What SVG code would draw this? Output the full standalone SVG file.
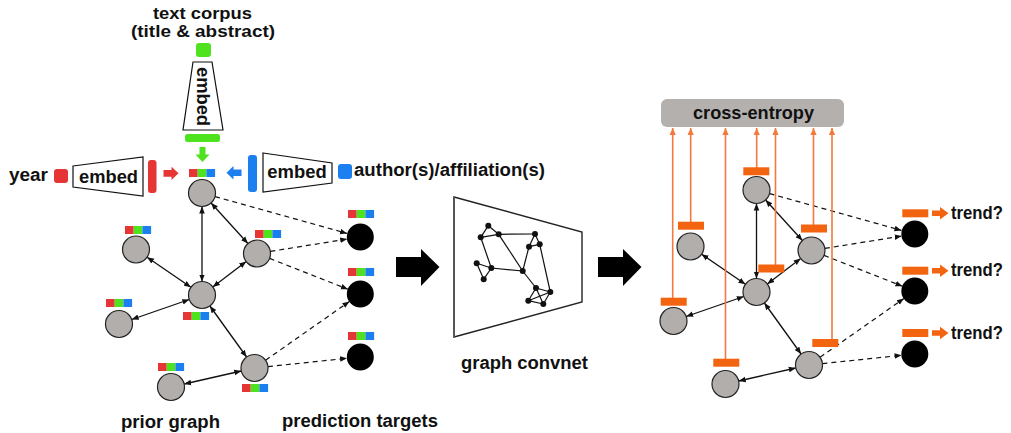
<svg xmlns="http://www.w3.org/2000/svg" width="1011" height="433" viewBox="0 0 1011 433">
<style>
.t{font-family:"Liberation Sans",Arial,sans-serif;font-weight:bold;font-size:18px;fill:#111}
.s{font-size:16px}
.nd{fill:#b2aeac;stroke:#222;stroke-width:1.2}
.tg{fill:#000}
.e{stroke:#111;stroke-width:1.3;fill:none;marker-start:url(#ah);marker-end:url(#ah)}
.d{stroke:#111;stroke-width:1.2;fill:none;stroke-dasharray:5 4;marker-end:url(#ah)}
.tr{fill:#fff;stroke:#111;stroke-width:1.2}
.r{fill:#e63535}.g{fill:#4fe21f}.b{fill:#1c7ff0}
.ob{fill:#f2640f}
.ol{stroke:#f37a3c;stroke-width:1.6;fill:none;marker-end:url(#oh)}
.cn line{stroke:#111;stroke-width:1.2}
.cn circle{fill:#111}
</style>
<defs>
<marker id="ah" viewBox="0 0 10 10" refX="10" refY="5" markerWidth="7" markerHeight="7" markerUnits="userSpaceOnUse" orient="auto-start-reverse"><path d="M0,1 L10,5 L0,9 z" fill="#111"/></marker>
<marker id="oh" viewBox="0 0 10 10" refX="10" refY="5" markerWidth="7" markerHeight="8" markerUnits="userSpaceOnUse" orient="auto"><path d="M0,0.5 L10,5 L0,9.5 z" fill="#f37a3c"/></marker>
<g id="bar3"><rect x="0" y="0" width="8.7" height="8" class="r"/><rect x="8.7" y="0" width="8.7" height="8" class="g"/><rect x="17.4" y="0" width="8.7" height="8" class="b"/></g>
</defs>

<!-- input features -->
<g id="text-corpus">
<text class="t s" x="153" y="18.5" textLength="99" lengthAdjust="spacingAndGlyphs">text corpus</text>
<text class="t s" x="131" y="36.5" textLength="144" lengthAdjust="spacingAndGlyphs">(title &amp; abstract)</text>
<rect x="196" y="43" width="15" height="14" rx="3" class="g"/>
<path d="M193,62 L212,62 L223,130 L183,130 Z" class="tr"/>
<text class="t" transform="translate(203,96.5) rotate(90)" x="-29.5" y="6" textLength="59" lengthAdjust="spacingAndGlyphs">embed</text>
<rect x="185" y="134" width="35" height="8" rx="2.5" class="g"/>
<path d="M199.5,147 L205.5,147 L205.5,154.5 L209.5,154.5 L202.5,162 L195.5,154.5 L199.5,154.5 Z" class="g"/>
</g>
<g id="year">
<text class="t" x="9" y="181" textLength="39" lengthAdjust="spacingAndGlyphs">year</text>
<rect x="54" y="169" width="14" height="14" rx="3" class="r"/>
<path d="M73,166 L143,157 L143,196 L73,187 Z" class="tr"/>
<text class="t" x="79" y="182.5" textLength="59" lengthAdjust="spacingAndGlyphs">embed</text>
<rect x="148" y="160" width="8.5" height="33" rx="3" class="r"/>
<path d="M163.5,170 L171.5,170 L171.5,166.7 L178.5,173.3 L171.5,180 L171.5,176.7 L163.5,176.7 Z" class="r"/>
</g>
<g id="authors">
<text class="t" x="354" y="176" textLength="191" lengthAdjust="spacingAndGlyphs">author(s)/affiliation(s)</text>
<rect x="338" y="164" width="14" height="15" rx="3" class="b"/>
<path d="M263,153 L332,163 L332,183 L263,192 Z" class="tr"/>
<text class="t" x="267.3" y="177.5" textLength="59.4" lengthAdjust="spacingAndGlyphs">embed</text>
<rect x="248" y="155" width="9" height="37" rx="3" class="b"/>
<path d="M241.5,169.5 L233.5,169.5 L233.5,166 L226.5,172.7 L233.5,179.4 L233.5,176 L241.5,176 Z" class="b"/>
</g>

<!-- left connectors -->
<g id="connectors-left">
<line class="e" x1="202" y1="206.5" x2="202" y2="281.5"/>
<line class="e" x1="211.1" y1="203" x2="247.9" y2="243.5"/>
<line class="e" x1="147.1" y1="257.2" x2="190.9" y2="287.3"/>
<line class="e" x1="246.2" y1="261.6" x2="212.8" y2="286.9"/>
<line class="e" x1="131.7" y1="319.5" x2="189.3" y2="299.5"/>
<line class="e" x1="209.9" y1="306" x2="246.6" y2="357"/>
<line class="e" x1="184.2" y1="384" x2="241.3" y2="371"/>
<line class="d" x1="215" y1="196.6" x2="347" y2="233.4"/>
<line class="d" x1="270.3" y1="251.4" x2="347.2" y2="239.1"/>
<line class="d" x1="269.6" y1="258.4" x2="347.9" y2="289.2"/>
<line class="d" x1="265.6" y1="360.2" x2="349.4" y2="301.5"/>
<line class="d" x1="267.9" y1="366.6" x2="347.1" y2="358.3"/>
</g>

<!-- left nodes -->
<g id="node-a"><circle class="nd" cx="202" cy="193" r="13.5"/><use href="#bar3" x="189" y="169"/></g>
<g id="node-b"><circle class="nd" cx="136" cy="249.5" r="13.5"/><use href="#bar3" x="125" y="226"/></g>
<g id="node-c"><circle class="nd" cx="257" cy="253.5" r="13.5"/><use href="#bar3" x="255" y="230"/></g>
<g id="node-d"><circle class="nd" cx="202" cy="295" r="13.5"/><use href="#bar3" x="183" y="312"/></g>
<g id="node-e"><circle class="nd" cx="119" cy="324" r="13.5"/><use href="#bar3" x="106" y="299"/></g>
<g id="node-f"><circle class="nd" cx="254.5" cy="368" r="13.5"/><use href="#bar3" x="242" y="384"/></g>
<g id="node-g"><circle class="nd" cx="171" cy="387" r="13.5"/><use href="#bar3" x="158" y="363"/></g>
<g id="target-1"><circle class="tg" cx="360.3" cy="237" r="13.5"/><use href="#bar3" x="348" y="210"/></g>
<g id="target-2"><circle class="tg" cx="360.3" cy="294" r="13.5"/><use href="#bar3" x="348" y="268"/></g>
<g id="target-3"><circle class="tg" cx="360.3" cy="357" r="13.5"/><use href="#bar3" x="348" y="332"/></g>

<g id="label-prior"><text class="t" x="121" y="427.5" textLength="99" lengthAdjust="spacingAndGlyphs">prior graph</text></g>
<g id="label-targets"><text class="t" x="282" y="427" textLength="156" lengthAdjust="spacingAndGlyphs">prediction targets</text></g>

<!-- big arrows -->
<g id="arrow-1"><path d="M396,257 L421,257 L421,249 L439.5,267 L421,286 L421,277 L396,277 Z" fill="#000"/></g>
<g id="arrow-2"><path d="M598,257 L623,257 L623,249 L641.5,267 L623,286 L623,277 L598,277 Z" fill="#000"/></g>

<!-- graph convnet -->
<g id="graph-convnet">
<path d="M454,197 L582,232 L582,302 L454,337 Z" fill="#fff" stroke="#222" stroke-width="1.4"/>
<line x1="454" y1="197" x2="454" y2="337" stroke="#555" stroke-width="2"/>
<g class="cn">
<line x1="488.3" y1="225.7" x2="480.7" y2="237.3"/>
<line x1="488.3" y1="225.7" x2="498.7" y2="234.3"/>
<line x1="480.7" y1="237.3" x2="498.7" y2="234.3"/>
<line x1="498.7" y1="234.3" x2="535" y2="234"/>
<line x1="480.7" y1="237.3" x2="491.3" y2="268"/>
<line x1="498.7" y1="234.3" x2="522.7" y2="271"/>
<line x1="535" y1="234" x2="529" y2="246.7"/>
<line x1="535" y1="234" x2="539.7" y2="244.3"/>
<line x1="529" y1="246.7" x2="539.7" y2="244.3"/>
<line x1="529" y1="246.7" x2="522.7" y2="271"/>
<line x1="539.7" y1="244.3" x2="550.3" y2="292"/>
<line x1="476.7" y1="263.3" x2="491.3" y2="268"/>
<line x1="476.7" y1="263.3" x2="483.7" y2="279.3"/>
<line x1="491.3" y1="268" x2="483.7" y2="279.3"/>
<line x1="491.3" y1="268" x2="522.7" y2="271"/>
<line x1="522.7" y1="271" x2="536" y2="288"/>
<line x1="536" y1="288" x2="550.3" y2="292"/>
<line x1="536" y1="288" x2="528.3" y2="300.7"/>
<line x1="536" y1="288" x2="543.3" y2="304"/>
<line x1="550.3" y1="292" x2="528.3" y2="300.7"/>
<line x1="550.3" y1="292" x2="543.3" y2="304"/>
<line x1="528.3" y1="300.7" x2="543.3" y2="304"/>
<circle cx="488.3" cy="225.7" r="3"/><circle cx="480.7" cy="237.3" r="3"/><circle cx="498.7" cy="234.3" r="3"/>
<circle cx="535" cy="234" r="3"/><circle cx="529" cy="246.7" r="3"/><circle cx="539.7" cy="244.3" r="3"/>
<circle cx="476.7" cy="263.3" r="3"/><circle cx="491.3" cy="268" r="3"/><circle cx="483.7" cy="279.3" r="3"/>
<circle cx="522.7" cy="271" r="3"/><circle cx="536" cy="288" r="3"/><circle cx="550.3" cy="292" r="3"/>
<circle cx="528.3" cy="300.7" r="3"/><circle cx="543.3" cy="304" r="3"/>
</g>
<text class="t" x="461" y="369" textLength="127" lengthAdjust="spacingAndGlyphs">graph convnet</text>
</g>

<!-- cross-entropy -->
<g id="cross-entropy">
<rect x="661" y="99" width="183" height="28" rx="6" fill="#b4b0ae"/>
<text class="t" x="693" y="119" textLength="121" lengthAdjust="spacingAndGlyphs">cross-entropy</text>
</g>

<!-- right connectors -->
<g id="connectors-right">
<g transform="translate(554.5,-3)">
<line class="e" x1="202" y1="206.5" x2="202" y2="281.5"/>
<line class="e" x1="211.1" y1="203" x2="247.9" y2="243.5"/>
<line class="e" x1="147.1" y1="257.2" x2="190.9" y2="287.3"/>
<line class="e" x1="246.2" y1="261.6" x2="212.8" y2="286.9"/>
<line class="e" x1="131.7" y1="319.5" x2="189.3" y2="299.5"/>
<line class="e" x1="209.9" y1="306" x2="246.6" y2="357"/>
<line class="e" x1="184.2" y1="384" x2="241.3" y2="371"/>
<line class="d" x1="215" y1="196.6" x2="347" y2="233.4"/>
<line class="d" x1="270.3" y1="251.4" x2="347.2" y2="239.1"/>
<line class="d" x1="269.6" y1="258.4" x2="347.9" y2="289.2"/>
<line class="d" x1="265.6" y1="360.2" x2="349.4" y2="301.5"/>
<line class="d" x1="267.9" y1="366.6" x2="347.1" y2="358.3"/>
</g>
<line class="ol" x1="672.7" y1="298" x2="672.7" y2="128"/>
<line class="ol" x1="690.7" y1="222" x2="690.7" y2="128"/>
<line class="ol" x1="725.5" y1="359" x2="725.5" y2="128"/>
<line class="ol" x1="756.7" y1="168" x2="756.7" y2="128"/>
<line class="ol" x1="775.5" y1="265" x2="775.5" y2="128"/>
<line class="ol" x1="813.5" y1="225" x2="813.5" y2="128"/>
<line class="ol" x1="832" y1="339.5" x2="832" y2="128"/>
</g>

<!-- right nodes -->
<g id="rnode-a"><circle class="nd" cx="756.5" cy="190" r="13.5"/><rect class="ob" x="743.3" y="167.3" width="26" height="8"/></g>
<g id="rnode-b"><circle class="nd" cx="690.5" cy="246.5" r="13.5"/><rect class="ob" x="678" y="221.7" width="26" height="8"/></g>
<g id="rnode-c"><circle class="nd" cx="811.5" cy="250.5" r="13.5"/><rect class="ob" x="801" y="224.5" width="26" height="8"/></g>
<g id="rnode-d"><circle class="nd" cx="756.5" cy="292" r="13.5"/><rect class="ob" x="758.3" y="264.5" width="26" height="8"/></g>
<g id="rnode-e"><circle class="nd" cx="673.5" cy="321" r="13.5"/><rect class="ob" x="660.7" y="297.7" width="26" height="8"/></g>
<g id="rnode-f"><circle class="nd" cx="809" cy="365" r="13.5"/><rect class="ob" x="812.3" y="339" width="26" height="8"/></g>
<g id="rnode-g"><circle class="nd" cx="725.5" cy="384" r="13.5"/><rect class="ob" x="713.3" y="358.7" width="26" height="8"/></g>
<g id="rtarget-1"><circle class="tg" cx="914.8" cy="234" r="13.5"/><rect class="ob" x="902.3" y="209.3" width="26" height="8"/><path class="ob" d="M932,210.5 L940,210.5 L940,207 L948.5,213.3 L940,219.6 L940,216.1 L932,216.1 Z"/><text class="t" x="951" y="218.5" textLength="52" lengthAdjust="spacingAndGlyphs">trend?</text></g>
<g id="rtarget-2"><circle class="tg" cx="914.8" cy="291" r="13.5"/><rect class="ob" x="902.3" y="266.7" width="26" height="8"/><path class="ob" d="M932,267.9 L940,267.9 L940,264.4 L948.5,270.7 L940,277 L940,273.5 L932,273.5 Z"/><text class="t" x="951" y="276" textLength="52" lengthAdjust="spacingAndGlyphs">trend?</text></g>
<g id="rtarget-3"><circle class="tg" cx="914.8" cy="354" r="13.5"/><rect class="ob" x="902.3" y="329" width="26" height="8"/><path class="ob" d="M932,330.2 L940,330.2 L940,326.7 L948.5,333 L940,339.3 L940,335.8 L932,335.8 Z"/><text class="t" x="951" y="338.5" textLength="52" lengthAdjust="spacingAndGlyphs">trend?</text></g>
</svg>
